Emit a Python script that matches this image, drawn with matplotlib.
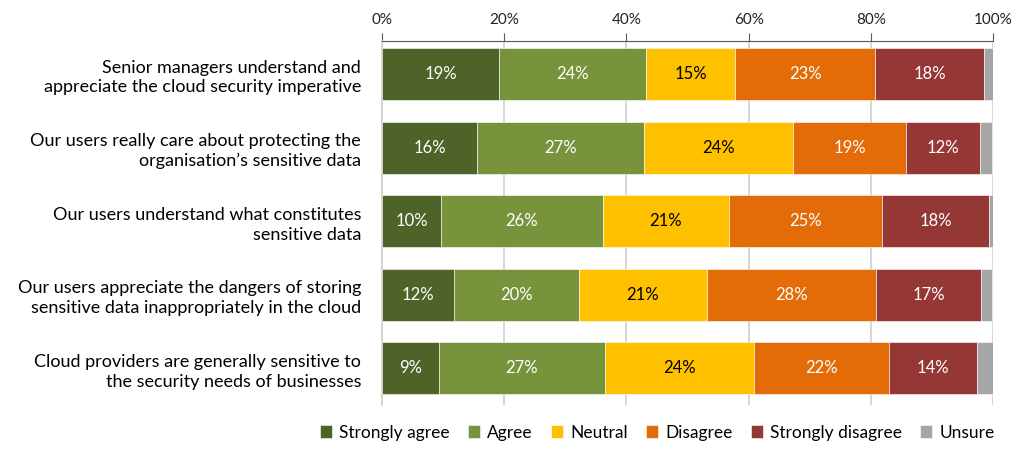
import matplotlib
matplotlib.use("Agg")
import matplotlib.pyplot as plt
import numpy as np

plt.rcParams["font.family"] = ["Lato", "DejaVu Sans"]

# データ
statements = [
    "Senior managers understand and\nappreciate the cloud security imperative",
    "Our users really care about protecting the\norganisation\u2019s sensitive data",
    "Our users understand what constitutes\nsensitive data",
    "Our users appreciate the dangers of storing\nsensitive data inappropriately in the cloud",
    "Cloud providers are generally sensitive to\nthe security needs of businesses",
]
categories = ["Strongly agree", "Agree", "Neutral", "Disagree", "Strongly disagree", "Unsure"]
strongly_agree = [19.15, 15.6, 9.7, 11.8, 9.3]
agree = [24.0, 27.2, 26.4, 20.4, 27.2]
neutral = [14.7, 24.4, 20.7, 21.0, 24.4]
disagree = [22.9, 18.6, 25.0, 27.7, 22.0]
strongly_disagree = [17.8, 12.0, 17.6, 17.2, 14.4]
unsure = [1.4, 2.1, 0.7, 1.8, 2.7]
x_ticks = [0, 20, 40, 60, 80, 100]

series = [strongly_agree, agree, neutral, disagree, strongly_disagree, unsure]
colors = ["#4F6228", "#77933C", "#FFC000", "#E36C09", "#953735", "#A6A6A6"]
text_colors = ["white", "white", "black", "white", "white", None]

fig = plt.figure(figsize=(10.26, 4.54), dpi=100)
ax = fig.add_axes([382 / 1026, 1 - 405 / 454, 611 / 1026, 364 / 454])

y = np.arange(len(statements))
left = np.zeros(len(statements))
for vals, col, tcol, name in zip(series, colors, text_colors, categories):
    vals = np.array(vals)
    bars = ax.barh(y, vals, left=left, height=0.71, color=col, label=name,
                   edgecolor="white", linewidth=0.4, zorder=3)
    if tcol is not None:
        for bar, v in zip(bars, vals):
            ax.text(bar.get_x() + bar.get_width() / 2, bar.get_y() + bar.get_height() / 2,
                    f"{v:.0f}%", ha="center", va="center", color=tcol, fontsize=12, zorder=4)
    left += vals

ax.set_xlim(0, 100)
ax.set_ylim(4.5, -0.45)
ax.set_xticks(x_ticks)
ax.set_xticklabels([f"{t}%" for t in x_ticks], fontsize=11)
ax.xaxis.tick_top()
ax.tick_params(axis="x", direction="out", length=6, color="#595959", pad=4, labelcolor="#222222")
ax.set_yticks(y)
ax.set_yticklabels(statements, fontsize=13, linespacing=1.3)
ax.tick_params(axis="y", length=0, pad=15)
ax.xaxis.grid(True, color="#D0D0D0", linewidth=1.2, zorder=0)

for side in ["right", "bottom"]:
    ax.spines[side].set_visible(False)
ax.spines["top"].set_color("#595959")
ax.spines["left"].set_color("#D0D0D0")
ax.spines["left"].set_linewidth(1.2)

fig.legend(loc="lower left", bbox_to_anchor=(0.297, -0.005), ncol=6, frameon=False,
           fontsize=12.5, handlelength=0.7, handleheight=0.7, handletextpad=0.4,
           columnspacing=1.05)

fig.savefig("out.png", dpi=100)
plt.close(fig)
